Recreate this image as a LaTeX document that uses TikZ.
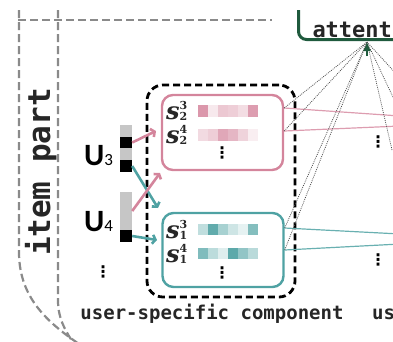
\documentclass[tikz,border=0pt]{standalone}
\usepackage{fontspec}
\usetikzlibrary{arrows.meta,calc}
\newfontfamily\monof{DejaVu Sans Mono}
\newfontfamily\ufont{Carlito}
\newfontfamily\dvs{DejaVu Sans}
\newfontfamily\dvserif{DejaVu Serif}
\newcommand\svfont{\dvserif\bfseries\itshape\fontsize{24}{26}\selectfont}
\newcommand\svscr{\dvserif\bfseries\fontsize{11}{11}\selectfont}
\newcommand\svec[2]{{\svfont s}\makebox[0pt][l]{\raisebox{10pt}{\svscr #2}}\raisebox{-1pt}{\svscr #1}}
\definecolor{pk}{HTML}{D4859C}
\definecolor{tl}{HTML}{4FA2A3}
\definecolor{agreen}{HTML}{1F5A3D}
\definecolor{gr}{HTML}{8A8A8A}
\tikzset{
  grdash/.style={gr, line width=2.2pt, dash pattern=on 8pt off 4pt},
  compbox/.style={draw, rounded corners=11pt, line width=2.4pt, minimum width=121pt, inner sep=0pt},
  outerbox/.style={draw=black, rounded corners=16pt, line width=2.8pt, dash pattern=on 7pt off 4pt, minimum width=148pt, minimum height=212pt, inner sep=0pt},
  slab/.style={anchor=base west, inner sep=0pt, text=black!85},
  ulab/.style={anchor=base west, inner sep=0pt, font=\ufont\bfseries\fontsize{31}{32}\selectfont},
  vd/.style={inner sep=0pt, font=\dvs\bfseries\fontsize{16}{16}\selectfont},
  blk/.style={fill=black, minimum width=12pt, minimum height=11.5pt, inner sep=0pt},
  gbar/.style={fill=gray!45, minimum width=12pt, inner sep=0pt},
  linkarrow/.style={line width=2.6pt, -{Straight Barb[length=3pt,width=9pt]}},
  dotl/.style={black!70, line width=0.75pt, dash pattern=on 0.9pt off 1.1pt},
  monolab/.style={inner sep=0pt, font=\monof\bfseries\fontsize{19}{20}\selectfont, text=black!85},
  attbox/.style={draw=agreen, line width=3pt, rounded corners=8pt, inner xsep=14pt, inner ysep=0pt, text height=50pt, text depth=2.5pt, font=\monof\bfseries\fontsize{22}{24}\selectfont, text=black!85}
}
\begin{document}
\begin{tikzpicture}[x=1pt,y=-1pt]
\useasboundingbox (0,0) rectangle (393,341);
\clip (-2,10) rectangle (395,343);

% gray dashed part borders
\draw[grdash] (18,20) -- (272,20);
\draw[grdash] (19,10) -- (19,252) .. controls (19,300) and (50,325) .. (88,350);
\draw[grdash] (58,10) -- (58,300) .. controls (58,320) and (66,332) .. (78,350);
\node[inner sep=0pt, anchor=base, rotate=90, text=black!85, font=\monof\bfseries\fontsize{31}{32}\selectfont] (item) at (50,172) {item part};

% attention box
\node[attbox, anchor=base west] (att) at (297,37) {attention};
\coordinate (tip) at (367,42);

% outer dashed component
\node[outerbox] (comp) at (221,191) {};
\node[compbox, draw=pk, minimum height=75pt] (pbox) at (222.5,132.5) {};
\node[compbox, draw=tl, minimum height=74pt] (tbox) at (223,250) {};

% cells
\foreach \c [count=\i from 0] in {85,18,45,40,28,80} \fill[pk!\c] (198+\i*10,105) rectangle ++(10,12);
\foreach \c [count=\i from 0] in {30,40,72,60,36,14} \fill[pk!\c] (198+\i*10,129) rectangle ++(10,12);
\foreach \c [count=\i from 0] in {36,90,50,28,14,70} \fill[tl!\c] (198+\i*10,224) rectangle ++(10,11);
\foreach \c [count=\i from 0] in {72,38,18,92,62,40} \fill[tl!\c] (198+\i*10,248) rectangle ++(10,11);

\node[slab] (s23) at (166,119) {\svec{2}{3}};
\node[slab] (s24) at (166,143) {\svec{2}{4}};
\node[slab] (s13) at (166,238) {\svec{1}{3}};
\node[slab] (s14) at (166,262) {\svec{1}{4}};

\node[vd] (d1) at (222,153) {⋮};
\node[vd] (d2) at (222,273) {⋮};
\node[vd] (d3) at (103,272) {⋮};
\node[vd] (d4) at (378,142) {⋮};
\node[vd] (d5) at (378,260) {⋮};

% user bars
\node[gbar, minimum height=47pt] (g3) at (126,148.5) {};
\node[blk] (b31) at (126,142.5) {};
\node[blk] (b32) at (126,166) {};
\node[gbar, minimum height=38pt] (g4) at (126,211) {};
\node[blk] (b4) at (126,236) {};
\node[ulab] (u3) at (84,165) {U{\mdseries\fontsize{17}{17}\selectfont 3}};
\node[ulab] (u4) at (84,231) {U{\mdseries\fontsize{17}{17}\selectfont 4}};

% links from users to boxes
\coordinate (pa1) at (156,131);
\coordinate (ta1) at (158,208);
\coordinate (pa2) at (160,173);
\coordinate (ta2) at (157,240);
\draw[linkarrow, pk] (b31.east) -- (pa1);
\draw[linkarrow, tl] (b32.east) -- (ta1);
\draw[linkarrow, pk] (g4.east) -- (pa2);
\draw[linkarrow, tl] (b4.east) -- (ta2);

% outgoing lines
\coordinate (p1) at (pbox.east |- 0,108);
\coordinate (p2) at (pbox.east |- 0,131);
\coordinate (t1) at (tbox.east |- 0,228);
\coordinate (t2) at (tbox.east |- 0,250);
\coordinate (pe1) at (400,116);
\coordinate (pe2) at (400,126);
\coordinate (te1) at (400,234);
\coordinate (te2) at (400,244);
\draw[pk!80, line width=1.2pt] (p1) -- (pe1);
\draw[pk!80, line width=1.2pt] (p2) -- (pe2);
\draw[tl!85, line width=1.2pt] (t1) -- (te1);
\draw[tl!85, line width=1.2pt] (t2) -- (te2);

\draw[dotl] (p1) -- (tip);
\draw[dotl] (p2) -- (tip);
\draw[dotl] (t1) -- (tip);
\draw[dotl] (t2) -- (tip);
\coordinate (r1) at (400,78);
\coordinate (r2) at (400,112);
\coordinate (r3) at (392,150);
\draw[dotl] (tip) -- (r1);
\draw[dotl] (tip) -- (r2);
\draw[dotl] (tip) -- (r3);
\draw[agreen, line width=1.2pt, -{Latex[length=9pt,width=8pt]}] (367,56) -- (tip);

% captions
\node[monolab, anchor=base] (cap1) at (212,319) {user-specific component};
\node[monolab, anchor=base west] (cap2) at (372,319) {user-specific component};
\end{tikzpicture}
\end{document}
